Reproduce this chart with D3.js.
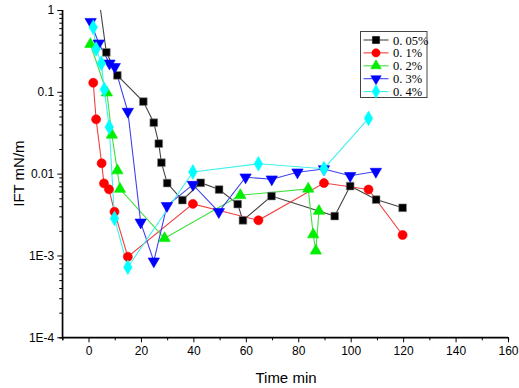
<!DOCTYPE html>
<html><head><meta charset="utf-8">
<script src="https://cdn.jsdelivr.net/npm/d3@7"></script>
<style>body{margin:0;background:#fff}svg{display:block}</style>
</head><body><svg id="c" width="519" height="388"></svg>
<script>
// ---- data ----
const seriesNames = ["0. 05%", "0. 1%", "0. 2%", "0. 3%", "0. 4%"];
const t005 = [3.3, 6.8, 11.0, 20.9, 24.9, 26.8, 27.8, 30.0, 35.8, 42.8, 49.8, 56.9, 58.9, 69.8, 93.9, 99.8, 109.7, 119.8];
const v005 = [2.0, 0.304, 0.159, 0.076, 0.0419, 0.0233, 0.0136, 0.00767, 0.00475, 0.00774, 0.0064, 0.00425, 0.00269, 0.00532, 0.00303, 0.00705, 0.00482, 0.00383];
const t01 = [1.8, 2.9, 5.0, 5.9, 7.8, 9.9, 15.0, 39.8, 64.8, 89.8, 106.8, 119.8];
const v01 = [0.129, 0.0461, 0.0134, 0.0076, 0.00643, 0.00342, 0.000964, 0.00427, 0.00269, 0.00767, 0.0064, 0.00178];
const t02 = [0.7, 7.0, 8.9, 11.0, 12.0, 29.0, 57.9, 83.8, 85.7, 86.7, 87.9];
const v02 = [0.382, 0.0975, 0.0298, 0.0109, 0.00648, 0.00162, 0.00544, 0.00652, 0.0018, 0.00114, 0.00349];
const t03 = [0.8, 3.9, 8.0, 10.0, 15.0, 19.9, 24.9, 29.9, 39.8, 49.7, 59.9, 69.9, 79.7, 89.8, 99.8, 109.6];
const v03 = [0.719, 0.392, 0.223, 0.202, 0.0574, 0.00254, 0.00085, 0.00404, 0.00734, 0.00341, 0.00904, 0.00855, 0.0104, 0.0114, 0.00942, 0.0106];
const t04 = [1.8, 2.9, 4.9, 6.0, 7.9, 9.9, 15.0, 39.8, 64.8, 89.8, 106.8];
const v04 = [0.615, 0.334, 0.223, 0.107, 0.0371, 0.00284, 0.000718, 0.0105, 0.0132, 0.0115, 0.0474];
const xTicks = [0, 20, 40, 60, 80, 100, 120, 140, 160];
const xMinor = [-10, 10, 30, 50, 70, 90, 110, 130, 150];
const yTicks = [1e-4, 1e-3, 0.01, 0.1, 1];
const yTickLabels = ["1E-4", "1E-3", "0.01", "0.1", "1"];

// ---- styling ----
const colors = ["#000000", "#ff0000", "#00ee00", "#0000ff", "#00ffff"];
const lineColors = ["#444444", "#f04040", "#40e040", "#4040f0", "#40f0f0"];
const shapes = [d3.symbolSquare, d3.symbolCircle, d3.symbolTriangle, d3.symbolTriangle, d3.symbolDiamond];
const sizes = [60, 64, 56, 56, 62];
const rotations = [0, 0, 0, 180, 0];

const svg = d3.select("#c");
const x = d3.scaleLinear().domain([-10, 160]).range([62.3, 508]);
const y = d3.scaleLog().domain([1e-4, 1]).range([337.3, 10]);

const data = [[t005, v005], [t01, v01], [t02, v02], [t03, v03], [t04, v04]]
  .map(([t, v]) => t.map((d, i) => ({ t: d, v: v[i] })));

svg.append("defs").append("clipPath").attr("id", "clip")
  .append("rect").attr("x", 62.3).attr("y", 10).attr("width", 508 - 62.3).attr("height", 337.3 - 10);

const plot = svg.append("g").attr("clip-path", "url(#clip)");
const line = d3.line().x(d => x(d.t)).y(d => y(d.v));

data.forEach((s, i) => {
  plot.append("path").datum(s).attr("d", line)
    .attr("fill", "none").attr("stroke", lineColors[i]).attr("stroke-width", 1.1);
});
data.forEach((s, i) => {
  plot.selectAll(null).data(s).enter().append("path")
    .attr("d", d3.symbol().type(shapes[i]).size(sizes[i]))
    .attr("transform", d => `translate(${x(d.t)},${y(d.v)}) rotate(${rotations[i]})`)
    .attr("fill", colors[i]).attr("stroke", i === 0 ? "#888" : colors[i]).attr("stroke-width", 0.6);
});

// ---- axes ----
const font = "'Liberation Sans', Arial, sans-serif";
const xAxis = svg.append("g").attr("transform", "translate(0,337.3)")
  .call(d3.axisBottom(x).tickValues(xTicks).tickSize(5).tickPadding(4).tickFormat(d3.format("d")));
svg.append("g").attr("transform", "translate(0,337.3)")
  .call(d3.axisBottom(x).tickValues(xMinor).tickSize(3).tickFormat(""));
const yAxis = svg.append("g").attr("transform", "translate(62.3,0)")
  .call(d3.axisLeft(y).tickValues(yTicks).tickSize(5).tickPadding(3).tickFormat((d, i) => yTickLabels[i]));
const minor = [];
for (let e = -4; e < 0; e++) for (let m = 2; m <= 9; m++) minor.push(m * Math.pow(10, e));
svg.append("g").attr("transform", "translate(62.3,0)")
  .call(d3.axisLeft(y).tickValues(minor).tickSize(3).tickFormat(""));

svg.selectAll(".domain").attr("stroke", "#000").attr("stroke-width", 1.2);
xAxis.select(".domain").attr("d", `M${x(-10)},0H${x(160)}`);
yAxis.select(".domain").attr("d", `M0,${y(1e-4)}V${y(1)}`);
svg.selectAll(".tick line").attr("stroke", "#000");
svg.selectAll(".tick text").attr("font-family", font).attr("font-size", 12).attr("fill", "#000");

svg.append("text").attr("x", 286).attr("y", 383).attr("text-anchor", "middle")
  .attr("font-family", font).attr("font-size", 15).text("Time min");
svg.append("text").attr("transform", "translate(24,173.6) rotate(-90)").attr("text-anchor", "middle")
  .attr("font-family", font).attr("font-size", 15).text("IFT mN/m");

// ---- legend ----
const lg = svg.append("g");
lg.append("rect").attr("x", 360.5).attr("y", 31.5).attr("width", 66.5).attr("height", 66)
  .attr("fill", "#fff").attr("stroke", "#444").attr("stroke-width", 1);
seriesNames.forEach((n, i) => {
  const yy = 40 + i * 12.9;
  lg.append("line").attr("x1", 363.5).attr("x2", 388.5).attr("y1", yy).attr("y2", yy)
    .attr("stroke", lineColors[i]).attr("stroke-width", 1.1);
  lg.append("path").attr("d", d3.symbol().type(shapes[i]).size(sizes[i] * 0.85))
    .attr("transform", `translate(376,${yy}) rotate(${rotations[i]})`)
    .attr("fill", colors[i]).attr("stroke", colors[i]).attr("stroke-width", 0.5);
  lg.append("text").attr("x", 393).attr("y", yy + 4.5)
    .attr("font-family", "'Liberation Serif', 'DejaVu Serif', serif").attr("font-size", 12.5).text(n);
});
</script></body></html>
